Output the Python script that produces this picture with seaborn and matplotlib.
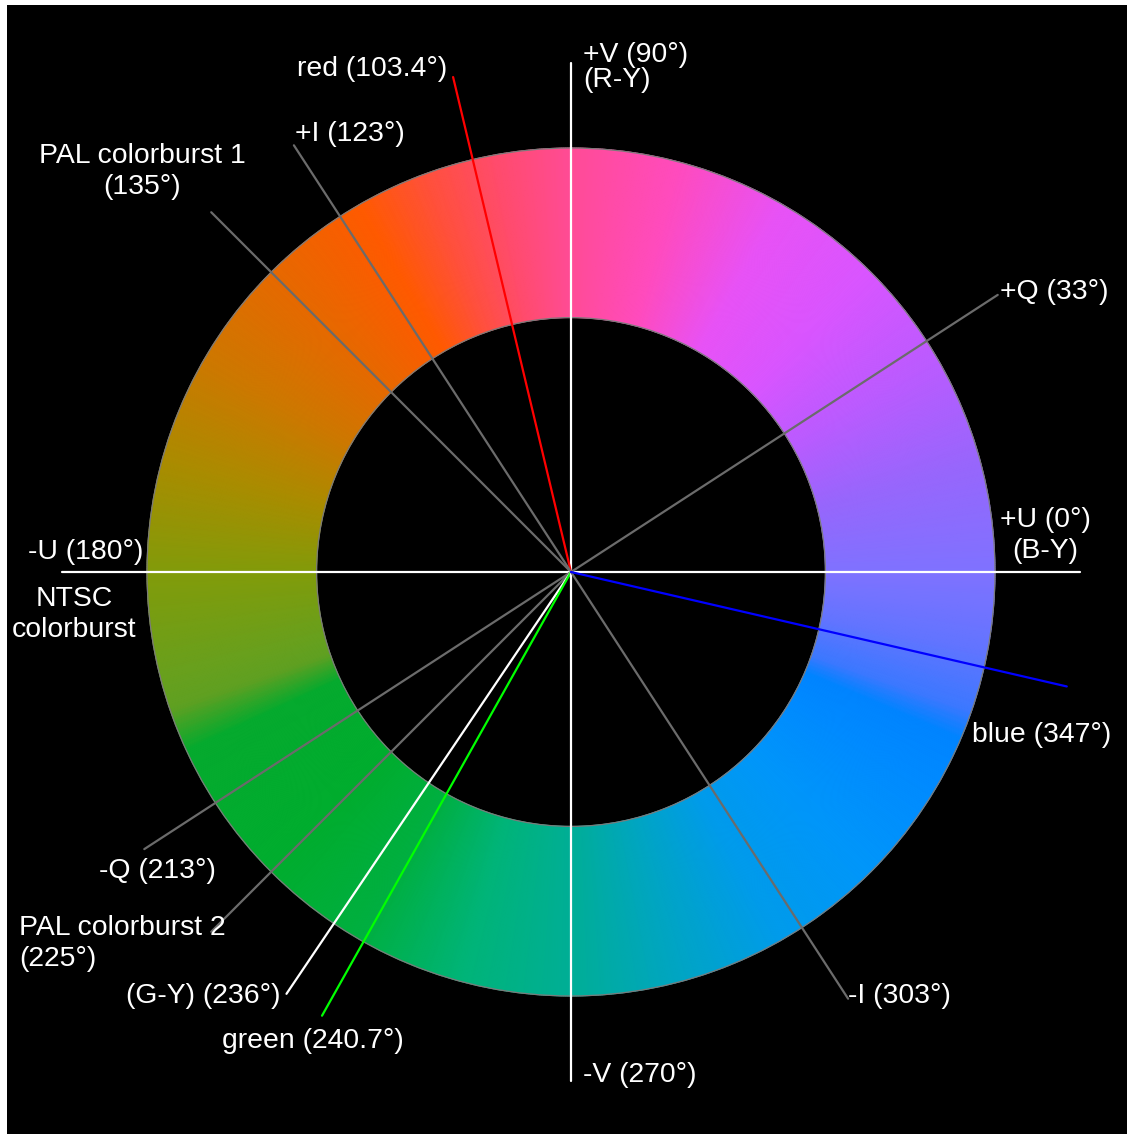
import numpy as np
import pandas as pd
import matplotlib.pyplot as plt
import seaborn as sns
from matplotlib.colors import LinearSegmentedColormap
from matplotlib.patches import Circle

# rays drawn from the origin of the UV plane
ray_names = ["+U", "+Q", "+V", "red", "+I", "PAL1", "-U", "-Q", "PAL2",
             "G-Y", "green", "-V", "-I", "blue"]
ray_angles = [0, 33, 90, 103.4, 123, 135, 180, 213, 225, 236, 240.7, 270, 303, 347]
ray_colors = ["white", "#6b6b6b", "white", "#ff0000", "#6b6b6b", "#6b6b6b", "white",
              "#6b6b6b", "#6b6b6b", "white", "#00ff00", "white", "#6b6b6b", "#0000ff"]

# label texts
label_texts = ["red (103.4°)", "+V (90°)\n(R-Y)", "+I (123°)", "PAL colorburst 1\n(135°)",
               "+Q (33°)", "+U (0°)\n(B-Y)", "-U (180°)", "NTSC\ncolorburst",
               "blue (347°)", "-Q (213°)", "PAL colorburst 2\n(225°)", "(G-Y) (236°)",
               "green (240.7°)", "-I (303°)", "-V (270°)"]

# ring colour read around the wheel (angle in degrees -> colour)
hue_angles = [0, 15, 30, 45, 60, 75, 90, 100, 110, 120, 135, 150, 165, 180, 195,
              199, 205, 225, 240, 255, 270, 285, 300, 315, 330, 337, 341, 350, 360]
hue_colors = ["#7f72ff", "#9866fc", "#bb5bff", "#d955ff", "#e852f6", "#ff4bbe",
              "#ff4b96", "#ff4b6e", "#ff503c", "#ff5a00", "#e66900", "#cd7800",
              "#aa8c00", "#829b0a", "#67a01e", "#5fa022", "#05aa2e", "#00ad2e",
              "#00af40", "#00b478", "#00ae96", "#00a5c3", "#009beb", "#0096fa",
              "#008aff", "#0084ff", "#3c78ff", "#6474ff", "#7f72ff"]

R_IN, R_OUT, R_RAY = 0.6, 1.0, 1.2

# layout of labels: (x, y, ha, linespacing)
label_layout = [(-0.292, 1.186, "right", 1.2), (0.028, 1.190, "left", 0.95),
                (-0.651, 1.033, "left", 1.2), (-1.012, 0.944, "center", 1.25),
                (1.012, 0.661, "left", 1.2), (1.118, 0.085, "center", 1.25),
                (-1.009, 0.047, "right", 1.2), (-1.172, -0.101, "center", 1.25),
                (0.946, -0.384, "left", 1.2), (-0.837, -0.705, "right", 1.2),
                (-1.302, -0.877, "left", 1.25), (-0.686, -1.000, "right", 1.2),
                (-0.823, -1.106, "left", 1.2), (0.653, -1.000, "left", 1.2),
                (0.028, -1.186, "left", 1.2)]

sns.set_theme(style="dark", rc={"axes.facecolor": "black", "figure.facecolor": "white"})
plt.rcParams["font.family"] = ["Liberation Sans", "DejaVu Sans"]

fig = plt.figure(figsize=(11.27, 11.34), dpi=100)
ax = fig.add_axes([7 / 1127, 0, 1120 / 1127, 1129 / 1134])

# colour ring
cmap = LinearSegmentedColormap.from_list(
    "uv", list(zip(np.array(hue_angles) / 360, hue_colors)), N=1024)
theta = np.linspace(0, 360, 1441)
rad = np.array([R_IN, R_OUT])
T, Rr = np.meshgrid(theta, rad)
X = Rr * np.cos(np.radians(T))
Y = Rr * np.sin(np.radians(T))
ax.pcolormesh(X, Y, T, cmap=cmap, vmin=0, vmax=360, shading="gouraud", zorder=1)
for r in (R_IN, R_OUT):
    ax.add_patch(Circle((0, 0), r, fill=False, ec="#7a7a7a", lw=0.9, zorder=1.5))

# rays
rows = []
for name, ang in zip(ray_names, ray_angles):
    rows.append({"ray": name, "x": 0.0, "y": 0.0})
    rows.append({"ray": name, "x": R_RAY * np.cos(np.radians(ang)),
                 "y": R_RAY * np.sin(np.radians(ang))})
df = pd.DataFrame(rows)
sns.lineplot(data=df, x="x", y="y", hue="ray", palette=dict(zip(ray_names, ray_colors)),
             sort=False, estimator=None, legend=False, linewidth=1.6, ax=ax, zorder=2)

for txt, (x, y, ha, ls) in zip(label_texts, label_layout):
    ax.text(x, y, txt, color="white", fontsize=20.4, ha=ha, va="center",
            multialignment=ha, linespacing=ls, zorder=3)

S = 424
ax.set_xlim((7 - 571) / S, (1127 - 571) / S)
ax.set_ylim(-(1134 - 572) / S, (572 - 5) / S)
ax.set_xticks([])
ax.set_yticks([])
ax.set_xlabel("")
ax.set_ylabel("")
for sp in ax.spines.values():
    sp.set_visible(False)

fig.savefig("out.png", dpi=100, facecolor="white")
plt.close()
